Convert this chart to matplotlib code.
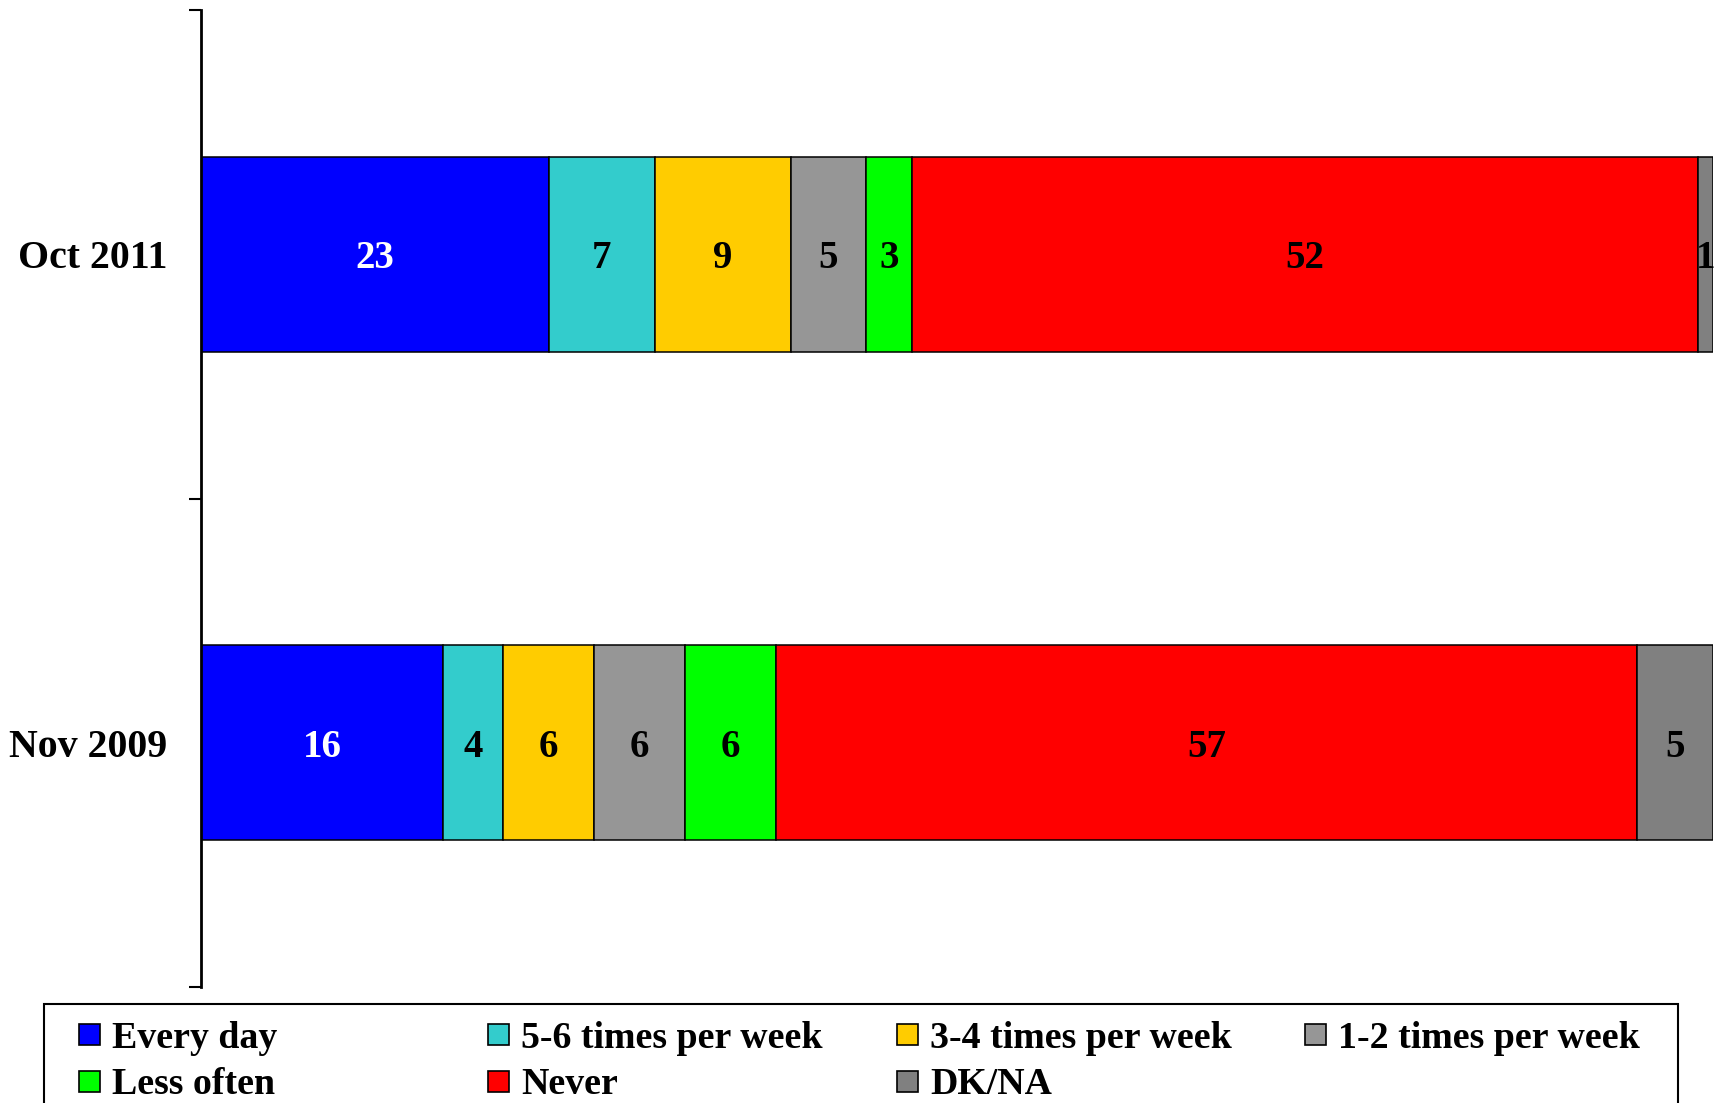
import matplotlib.pyplot as plt
from matplotlib.patches import Rectangle
import numpy as np

plt.rcParams['font.family'] = ['Liberation Serif', 'DejaVu Serif']
plt.rcParams['font.weight'] = 'bold'

# data
periods = ['Nov 2009', 'Oct 2011']
answers = ['Every day', '5-6 times per week', '3-4 times per week', '1-2 times per week',
           'Less often', 'Never', 'DK/NA']
nov_2009 = [16, 4, 6, 6, 6, 57, 5]
oct_2011 = [23, 7, 9, 5, 3, 52, 1]
colors = ['#0000FF', '#33CCCC', '#FFCC00', '#969696', '#00FF00', '#FF0000', '#808080']
label_colors = ['white', 'black', 'black', 'black', 'black', 'black', 'black']

values = np.array([nov_2009, oct_2011])

fig = plt.figure(figsize=(17.19, 11.03), dpi=100)
ax = fig.add_axes([201 / 1719, 1 - 987 / 1103, 1512 / 1719, 977 / 1103])

y = np.arange(len(periods))
left = np.zeros(len(periods))
for i, ans in enumerate(answers):
    ax.barh(y, values[:, i], left=left, height=0.4, color=colors[i],
            edgecolor='black', linewidth=1.1)
    for j in range(len(periods)):
        v = values[j, i]
        ax.text(left[j] + v / 2, y[j], str(v), ha='center', va='center_baseline',
                fontsize=28, fontweight='bold', color=label_colors[i])
    left += values[:, i]

ax.set_xlim(0, 100)
ax.set_ylim(-0.5, 1.5)
for s in ['top', 'right', 'bottom']:
    ax.spines[s].set_visible(False)
ax.spines['left'].set_linewidth(2)
ax.set_xticks([])
ax.set_yticks([-0.5, 0.5, 1.5])
ax.set_yticklabels([])
ax.tick_params(axis='y', which='major', length=9, width=1.5, direction='out')
ax.set_yticks(y, minor=True)
ax.set_yticklabels(periods, minor=True, fontsize=28.7, fontweight='bold')
ax.tick_params(axis='y', which='minor', length=0, pad=24)

# legend drawn by hand (row-major, evenly spaced columns)
W, H = 1719, 1103
fig.add_artist(Rectangle((44 / W, -0.05), (1678 - 44) / W, 0.05 + 1 - 1004 / H,
                         transform=fig.transFigure, facecolor='white',
                         edgecolor='black', linewidth=1.5))
col_x = [79, 488, 897, 1305]
row_y = [1034, 1081]
for k, ans in enumerate(answers):
    cx = col_x[k % 4]
    cy = row_y[k // 4]
    fig.add_artist(Rectangle((cx / W, 1 - (cy + 11) / H), 21 / W, 21 / H,
                             transform=fig.transFigure, facecolor=colors[k],
                             edgecolor='black', linewidth=1.2))
    fig.text((cx + 33) / W, 1 - cy / H, ans, ha='left', va='center_baseline',
             fontsize=27.3, fontweight='bold')

fig.savefig('out.png', dpi=100)
